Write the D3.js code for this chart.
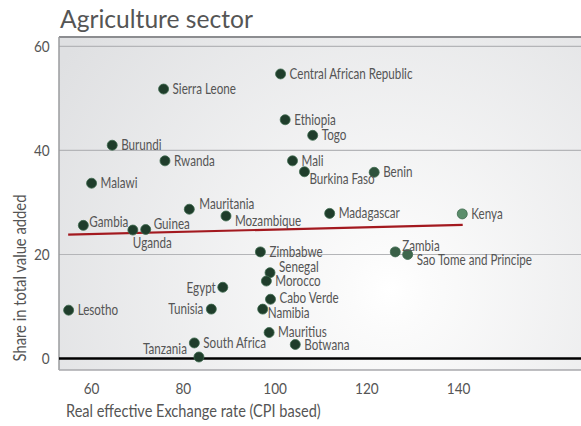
<!DOCTYPE html>
<html>
<head>
<meta charset="utf-8">
<script src="https://cdn.jsdelivr.net/npm/d3@7"></script>
<style>
  body { margin: 0; background: #fff; }
  text { font-family: Lato, "Open Sans", sans-serif; }
</style>
</head>
<body>
<script>
// canvas size
var w = 581;
var h = 426;

// data
var countries = ["Central African Republic", "Sierra Leone", "Ethiopia", "Togo", "Burundi",
    "Rwanda", "Mali", "Burkina Faso", "Benin", "Malawi", "Mauritania", "Mozambique",
    "Madagascar", "Kenya", "Gambia", "Uganda", "Guinea", "Zimbabwe", "Zambia",
    "Sao Tome and Principe", "Senegal", "Morocco", "Egypt", "Cabo Verde", "Tunisia",
    "Namibia", "Lesotho", "Mauritius", "Botwana", "South Africa", "Tanzania"];
var reer = [101.3, 75.8, 102.3, 108.3, 64.6,
    76.1, 103.9, 106.5, 121.7, 60.1, 81.4, 89.4,
    112.0, 140.9, 58.3, 69.1, 71.9, 96.9, 126.3,
    129.0, 99.0, 98.2, 88.7, 99.1, 86.2,
    97.4, 55.1, 98.8, 104.5, 82.5, 83.5];
var agriShare = [54.7, 51.8, 45.9, 42.9, 41.0,
    38.0, 38.0, 35.9, 35.8, 33.7, 28.7, 27.4,
    27.9, 27.8, 25.6, 24.7, 24.8, 20.5, 20.5,
    20.0, 16.5, 14.9, 13.7, 11.4, 9.5,
    9.5, 9.3, 5.0, 2.7, 3.0, 0.3];
// red trend line end points
var trendX = [55, 141];
var trendY = [23.8, 25.7];
var xTicks = [60, 80, 100, 120, 140];
var yTicks = [0, 20, 40, 60];

// label nudges (dx, dy from the dot centre, anchor)
var labelNudge = {
    "Gambia": [6, -3, "start"],
    "Guinea": [8, -6, "start"],
    "Uganda": [0, 13, "start"],
    "Mozambique": [9, 5, "start"],
    "Mauritania": [10, -5, "start"],
    "Burkina Faso": [5, 7, "start"],
    "Zambia": [7, -6, "start"],
    "Sao Tome and Principe": [9, 5, "start"],
    "Senegal": [9, -6, "start"],
    "Egypt": [-7, 1, "end"],
    "Tunisia": [-8, 0, "end"],
    "Namibia": [5, 4, "start"],
    "Cabo Verde": [9, -1, "start"],
    "Mauritius": [9, -1, "start"],
    "Tanzania": [-12, -8, "end"]
};

var plot = {left: 59, top: 37, right: 582, bottom: 370};

var x = d3.scaleLinear().domain([53, 167]).range([plot.left, plot.right]);
var y = d3.scaleLinear().domain([-2.2, 61.8]).range([plot.bottom, plot.top]);
// the dots get lighter towards the right
var dotColor = d3.scaleLinear().domain([115, 141]).range(["#1f3d2b", "#5b8d6b"]).clamp(true);

var svg = d3.select("body").append("svg")
    .attr("width", w)
    .attr("height", h);

// squeeze a text horizontally so it looks like the condensed font of the original
function squeeze(sel, k) {
    sel.each(function() {
        var t = d3.select(this);
        var tx = +t.attr("x") || 0, ty = +t.attr("y") || 0;
        t.attr("x", 0).attr("y", 0)
         .attr("transform", "translate(" + tx + "," + ty + ") scale(" + k + ",1)");
    });
}

// width of a string in a given font size, used to pick the squeeze factor
function textWidth(str, size) {
    var t = svg.append("text").style("font-size", size + "px").text(str);
    var wd = t.node().getComputedTextLength();
    t.remove();
    return wd;
}

var defs = svg.append("defs");
var grad = defs.append("radialGradient")
    .attr("id", "bg")
    .attr("gradientUnits", "userSpaceOnUse")
    .attr("cx", 390).attr("cy", 290).attr("r", 400);
grad.append("stop").attr("offset", 0).attr("stop-color", "#ffffff");
grad.append("stop").attr("offset", 0.1).attr("stop-color", "#fbfbfb");
grad.append("stop").attr("offset", 1).attr("stop-color", "#dfe0e2");

// plot background
svg.append("rect")
    .attr("x", plot.left).attr("y", plot.top)
    .attr("width", plot.right - plot.left).attr("height", plot.bottom - plot.top)
    .attr("fill", "url(#bg)");

// grid lines
svg.append("g")
    .selectAll("line")
    .data(yTicks.filter(function(d) { return d != 0; }))
    .enter().append("line")
    .attr("x1", plot.left).attr("x2", plot.right)
    .attr("y1", function(d) { return y(d); })
    .attr("y2", function(d) { return y(d); })
    .attr("stroke", "#b4b5b8")
    .attr("stroke-width", 1.2);

// frame
svg.append("line").attr("x1", plot.left).attr("x2", plot.right)
    .attr("y1", plot.top).attr("y2", plot.top)
    .attr("stroke", "#8c8d90").attr("stroke-width", 2);
svg.append("line").attr("x1", plot.left).attr("x2", plot.left)
    .attr("y1", plot.top).attr("y2", plot.bottom)
    .attr("stroke", "#9a9b9e").attr("stroke-width", 1.5);
svg.append("line").attr("x1", plot.left).attr("x2", plot.right)
    .attr("y1", plot.bottom).attr("y2", plot.bottom)
    .attr("stroke", "#a8a9ac").attr("stroke-width", 1.5);

// zero line
svg.append("line")
    .attr("x1", plot.left).attr("x2", plot.right)
    .attr("y1", y(0)).attr("y2", y(0))
    .attr("stroke", "#000").attr("stroke-width", 2.5);

// axes (labels only)
var xAxis = svg.append("g")
    .attr("transform", "translate(0," + plot.bottom + ")")
    .call(d3.axisBottom(x).tickValues(xTicks).tickSize(0).tickPadding(13));
var yAxis = svg.append("g")
    .attr("transform", "translate(" + plot.left + ",0)")
    .call(d3.axisLeft(y).tickValues(yTicks).tickSize(0).tickPadding(11));
[xAxis, yAxis].forEach(function(a) {
    a.select(".domain").remove();
    a.selectAll("text")
        .attr("fill", "#555")
        .style("font-size", "16px")
        .style("font-family", "Lato, sans-serif")
        .attr("transform", "scale(0.85,1)");
});

// trend line
svg.append("line")
    .attr("x1", x(trendX[0])).attr("y1", y(trendY[0]))
    .attr("x2", x(trendX[1])).attr("y2", y(trendY[1]))
    .attr("stroke", "#a3191f")
    .attr("stroke-width", 2.2);

var pts = countries.map(function(c, i) { return {name: c, x: reer[i], y: agriShare[i]}; });

// dots
svg.append("g")
    .selectAll("circle")
    .data(pts)
    .enter().append("circle")
    .attr("cx", function(d) { return x(d.x); })
    .attr("cy", function(d) { return y(d.y); })
    .attr("r", 5)
    .attr("fill", function(d) { return dotColor(d.x); })
    .attr("stroke", "#3e6a4e")
    .attr("stroke-width", 0.8);

// dot labels, "Central African Republic" is about 123px wide in the original
var labelSize = 14.5;
var labelK = 123 / textWidth("Central African Republic", labelSize);

var labels = svg.append("g")
    .selectAll("text")
    .data(pts)
    .enter().append("text")
    .attr("x", function(d) {
        var n = labelNudge[d.name] || [9, 0, "start"];
        return x(d.x) + n[0];
    })
    .attr("y", function(d) {
        var n = labelNudge[d.name] || [9, 0, "start"];
        return y(d.y) + n[1];
    })
    .attr("dy", "0.35em")
    .attr("text-anchor", function(d) { return (labelNudge[d.name] || [9, 0, "start"])[2]; })
    .attr("fill", "#555")
    .style("font-size", labelSize + "px")
    .text(function(d) { return d.name; });
squeeze(labels, labelK);

// title, about 193px wide
var title = svg.append("text")
    .attr("x", 60).attr("y", 28)
    .attr("fill", "#555")
    .style("font-size", "25px")
    .text("Agriculture sector");
squeeze(title, 193 / textWidth("Agriculture sector", 25));

// axis titles
var xTitle = svg.append("text")
    .attr("x", 66).attr("y", 417)
    .attr("fill", "#555")
    .style("font-size", "17px")
    .text("Real effective Exchange rate (CPI based)");
squeeze(xTitle, 255 / textWidth("Real effective Exchange rate (CPI based)", 17));

var yK = 167 / textWidth("Share in total value added", 17);
svg.append("text")
    .attr("transform", "translate(26,278) rotate(-90) scale(" + yK + ",1)")
    .attr("text-anchor", "middle")
    .attr("fill", "#555")
    .style("font-size", "17px")
    .text("Share in total value added");
</script>
</body>
</html>
